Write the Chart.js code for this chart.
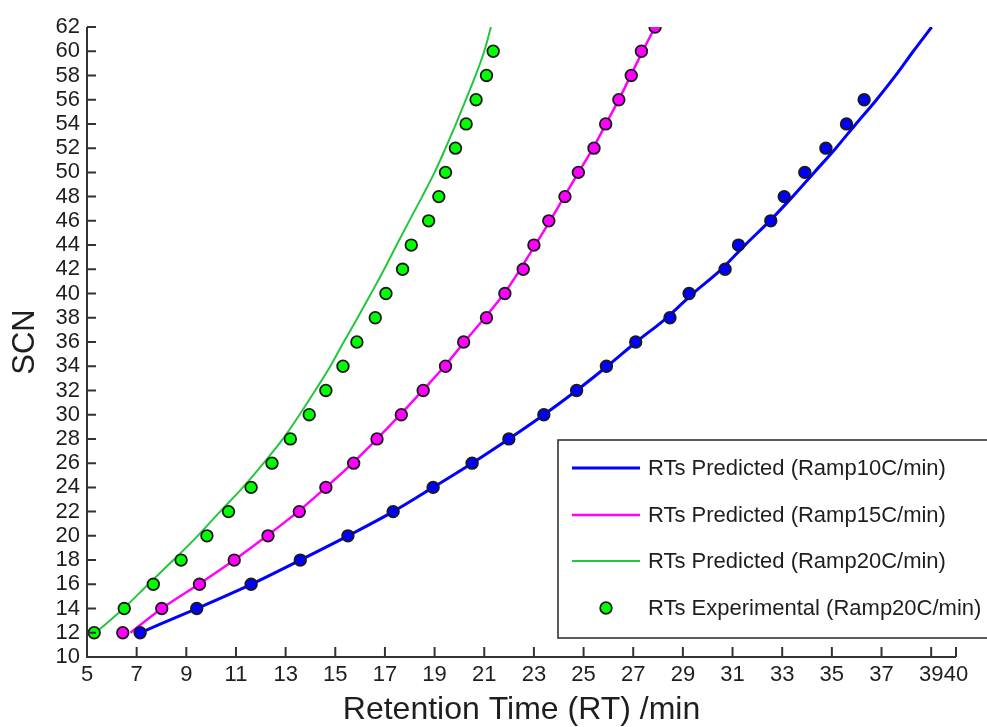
<!DOCTYPE html>
<html>
<head>
<meta charset="utf-8">
<script src="https://cdn.jsdelivr.net/npm/chart.js@4.4.1/dist/chart.umd.min.js"></script>
<style>
html,body{margin:0;padding:0;background:#fff;}
#wrap{width:987px;height:727px;}
</style>
</head>
<body>
<div id="wrap"><canvas id="myChart" width="987" height="727"></canvas></div>
<script>
// SCN (炭素数) と保持時間 RT [min]
var scnLine = [12,14,16,18,20,22,24,26,28,30,32,34,36,38,40,42,44,46,48,50,52,54,56,58,60,62];

// 予測値 (昇温 10 / 15 / 20 C/min)
var rtPred10 = [7.14,9.42,11.61,13.59,15.51,17.33,18.94,20.51,21.99,23.40,24.72,25.95,27.12,28.35,29.40,30.55,31.50,32.50,33.42,34.29,35.16,35.97,36.80,37.57,38.28,39.02];
var rtPred15 = [6.75,8.01,9.50,10.93,12.25,13.50,14.62,15.70,16.68,17.62,18.52,19.40,20.20,21.02,21.80,22.45,23.05,23.65,24.22,24.80,25.38,25.90,26.42,26.90,27.38,27.88];
var rtPred20 = [5.35,6.47,7.47,8.48,9.46,10.36,11.28,12.11,12.89,13.56,14.19,14.80,15.34,15.90,16.44,16.97,17.47,17.98,18.50,19.00,19.44,19.86,20.26,20.65,21.00,21.27];

// 実験値
var scnExp10 = [12,14,16,18,20,22,24,26,28,30,32,34,36,38,40,42,44,46,48,50,52,54,56];
var rtExp10 = [7.14,9.42,11.61,13.59,15.51,17.33,18.94,20.51,21.99,23.40,24.72,25.92,27.10,28.48,29.25,30.70,31.24,32.54,33.08,33.91,34.76,35.59,36.30];
var scnExp15 = [12,14,16,18,20,22,24,26,28,30,32,34,36,38,40,42,44,46,48,50,52,54,56,58,60,62];
var rtExp15 = [6.44,8.01,9.53,10.93,12.29,13.55,14.62,15.74,16.68,17.66,18.54,19.44,20.17,21.09,21.83,22.57,23.00,23.60,24.25,24.79,25.42,25.89,26.42,26.92,27.33,27.88];
var scnExp20 = [12,14,16,18,20,22,24,26,28,30,32,34,36,38,40,42,44,46,48,50,52,54,56,58,60];
var rtExp20 = [5.29,6.50,7.67,8.79,9.83,10.70,11.61,12.45,13.19,13.95,14.62,15.31,15.87,16.61,17.04,17.71,18.06,18.76,19.17,19.44,19.84,20.27,20.67,21.09,21.36];

// 目盛り
var xTicks = [5,7,9,11,13,15,17,19,21,23,25,27,29,31,33,35,37,39,40];
var yTicks = [10,12,14,16,18,20,22,24,26,28,30,32,34,36,38,40,42,44,46,48,50,52,54,56,58,60,62];

var legendLabels = ['RTs Predicted (Ramp10C/min)','RTs Predicted (Ramp15C/min)','RTs Predicted (Ramp20C/min)','RTs Experimental (Ramp20C/min)'];

function toXY(xs, ys){
    var out = [];
    for (var i = 0; i < xs.length; i++) out.push({x: xs[i], y: ys[i]});
    return out;
}

var FONT = "'Liberation Sans', Arial, sans-serif";
var AXIS = '#333';
var TXT = '#1e1e1e';

function lineSet(label, xs, color, w){
    return {label: label, data: toXY(xs, scnLine), showLine: true, borderColor: color,
        backgroundColor: color, borderWidth: w, pointRadius: 0,
        cubicInterpolationMode: 'monotone', order: 2};
}
function pointSet(label, xs, ys, color){
    return {label: label, data: toXY(xs, ys), showLine: false, backgroundColor: color,
        borderColor: '#1a1a1a', borderWidth: 1.8, pointRadius: 5.8, order: 1};
}

// 軸線と内向きの目盛り線
var axisPlugin = {
    id: 'axisPlugin',
    afterDatasetsDraw: function(chart){
        var ctx = chart.ctx, a = chart.chartArea, xs = chart.scales.x, ys = chart.scales.y;
        ctx.save();
        ctx.strokeStyle = AXIS;
        ctx.lineWidth = 2;
        ctx.beginPath();
        ctx.moveTo(a.left, a.top);
        ctx.lineTo(a.left, a.bottom);
        ctx.lineTo(a.right, a.bottom);
        ys.ticks.forEach(function(t){
            var y = ys.getPixelForValue(t.value);
            ctx.moveTo(a.left, y); ctx.lineTo(a.left + 9, y);
        });
        xs.ticks.forEach(function(t){
            var x = xs.getPixelForValue(t.value);
            ctx.moveTo(x, a.bottom); ctx.lineTo(x, a.bottom - 10);
        });
        ctx.stroke();
        ctx.restore();
    }
};

// 凡例 (枠付き)
var legendPlugin = {
    id: 'legendBox',
    afterDraw: function(chart){
        var ctx = chart.ctx, ds = chart.data.datasets;
        var bx = 558, by = 440, bw = 440, bh = 198;
        ctx.save();
        ctx.fillStyle = '#fff';
        ctx.fillRect(bx, by, bw, bh);
        ctx.strokeStyle = AXIS;
        ctx.lineWidth = 1.6;
        ctx.strokeRect(bx, by, bw, bh);
        var rows = [468, 515, 561, 608];
        var items = [ds[3], ds[4], ds[5], ds[2]];
        ctx.font = '22px ' + FONT;
        ctx.textBaseline = 'middle';
        ctx.textAlign = 'left';
        for (var i = 0; i < 4; i++){
            var d = items[i], y = rows[i];
            if (i < 3){
                ctx.strokeStyle = d.borderColor;
                ctx.lineWidth = d.borderWidth;
                ctx.beginPath();
                ctx.moveTo(572, y); ctx.lineTo(640, y);
                ctx.stroke();
            } else {
                ctx.fillStyle = d.backgroundColor;
                ctx.strokeStyle = d.borderColor;
                ctx.lineWidth = d.borderWidth;
                ctx.beginPath();
                ctx.arc(606, y, d.pointRadius, 0, Math.PI * 2);
                ctx.fill(); ctx.stroke();
            }
            ctx.fillStyle = TXT;
            ctx.fillText(legendLabels[i], 648, y + 1);
        }
        ctx.restore();
    }
};

var ctx = document.getElementById('myChart');
var myChart = new Chart(ctx, {
    type: 'scatter',
    data: {
        datasets: [
            pointSet('RTs Experimental (Ramp10C/min)', rtExp10, scnExp10, '#0000ff'),
            pointSet('RTs Experimental (Ramp15C/min)', rtExp15, scnExp15, '#ff00ff'),
            pointSet(legendLabels[3], rtExp20, scnExp20, '#00ff00'),
            lineSet(legendLabels[0], rtPred10, '#0000ff', 3),
            lineSet(legendLabels[1], rtPred15, '#ff00ff', 2.5),
            lineSet(legendLabels[2], rtPred20, '#22c83c', 2)
        ]
    },
    options: {
        responsive: false,
        animation: false,
        devicePixelRatio: 1,
        layout: {padding: {left: 0, right: 31, top: 27, bottom: 0}},
        plugins: {legend: {display: false}, tooltip: {enabled: false}},
        scales: {
            x: {
                type: 'linear', min: 5, max: 40,
                grid: {display: false, drawTicks: false},
                border: {display: false},
                afterBuildTicks: function(s){ s.ticks = xTicks.map(function(v){ return {value: v}; }); },
                afterFit: function(s){ s.height = 70; },
                ticks: {autoSkip: false, maxRotation: 0, padding: 6, color: TXT, font: {family: FONT, size: 22, lineHeight: 1.1}},
                title: {display: true, text: 'Retention Time (RT) /min', color: TXT,
                    font: {family: FONT, size: 32, lineHeight: 1}, padding: {top: 0, bottom: 1}}
            },
            y: {
                type: 'linear', min: 10, max: 62,
                grid: {display: false, drawTicks: false},
                border: {display: false},
                afterBuildTicks: function(s){ s.ticks = yTicks.map(function(v){ return {value: v}; }); },
                afterFit: function(s){ s.width = 87; },
                ticks: {autoSkip: false, padding: 7, color: TXT, font: {family: FONT, size: 22, lineHeight: 1}},
                title: {display: true, text: 'SCN', color: TXT,
                    font: {family: FONT, size: 31, lineHeight: 1}, padding: {top: 10, bottom: 0}}
            }
        }
    },
    plugins: [axisPlugin, legendPlugin]
});
</script>
</body>
</html>
